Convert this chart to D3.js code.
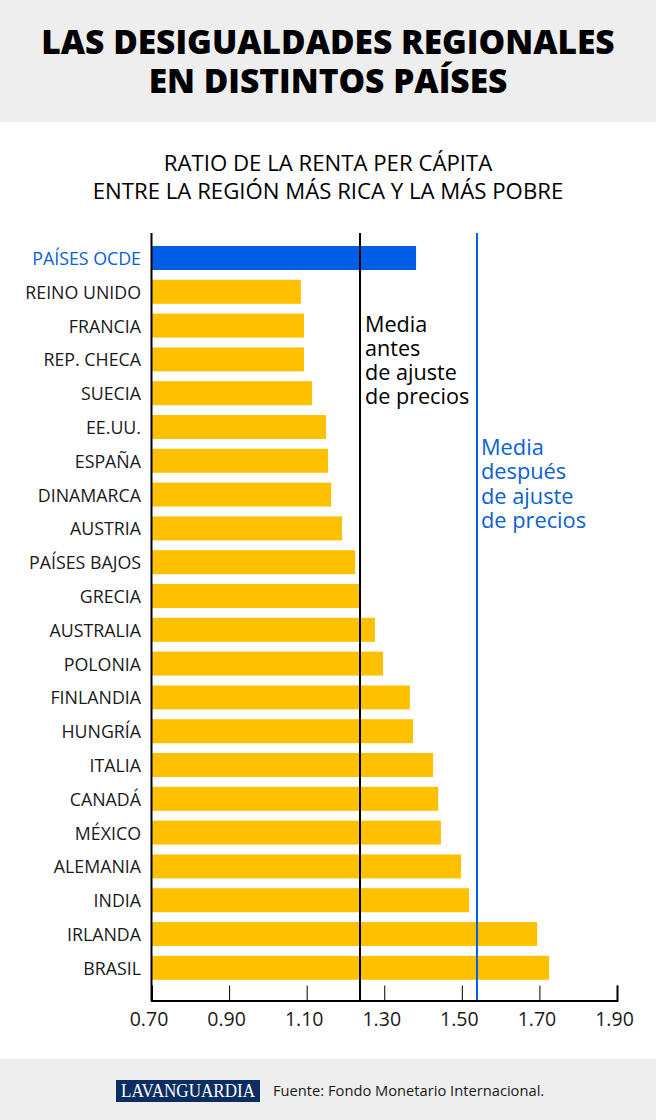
<!DOCTYPE html>
<html><head><meta charset="utf-8">
<script src="https://cdn.jsdelivr.net/npm/d3@7"></script>
<style>html,body{margin:0;padding:0;background:#fff}svg{display:block}text{font-family:"Open Sans",sans-serif}</style>
</head><body><div id="c"></div>
<script>
const categories=["PAÍSES OCDE","REINO UNIDO","FRANCIA","REP. CHECA","SUECIA","EE.UU.","ESPAÑA","DINAMARCA","AUSTRIA","PAÍSES BAJOS","GRECIA","AUSTRALIA","POLONIA","FINLANDIA","HUNGRÍA","ITALIA","CANADÁ","MÉXICO","ALEMANIA","INDIA","IRLANDA","BRASIL"];
const values=[1.382,1.085,1.093,1.093,1.114,1.150,1.155,1.163,1.191,1.225,1.2375,1.276,1.297,1.366,1.374,1.426,1.439,1.446,1.498,1.5185,1.694,1.725];
const tickValues=[0.7,0.9,1.1,1.3,1.5,1.7,1.9];
const meanBefore=1.2375, meanAfter=1.539;
const titleLines=["LAS DESIGUALDADES REGIONALES","EN DISTINTOS PAÍSES"];
const subtitleLines=["RATIO DE LA RENTA PER CÁPITA","ENTRE LA REGIÓN MÁS RICA Y LA MÁS POBRE"];
const noteBefore=["Media","antes","de ajuste","de precios"];
const noteAfter=["Media","después","de ajuste","de precios"];

const W=656,H=1120,NAVY="#0b2d62",BLUE="#005ee6",BLUET="#0a62d2",GOLD="#ffc000",GREY="#eeeeee",INK="#1a1a1a";
const svg=d3.select("#c").append("svg").attr("width",W).attr("height",H);
const x=d3.scaleLinear().domain([0.7,1.9]).range([151.5,617]);
const y=d3.scaleBand().domain(categories).range([246,979.8]).paddingInner(0.29);

svg.append("rect").attr("width",W).attr("height",122).attr("fill",GREY);
svg.append("rect").attr("y",1059).attr("width",W).attr("height",61).attr("fill",GREY);

svg.selectAll(".t").data(titleLines).join("text").attr("class","t")
 .attr("x",328).attr("y",(d,i)=>54+i*39).attr("text-anchor","middle")
 .attr("font-size",33.5).attr("font-weight",800).attr("fill","#000").text(d=>d);
svg.selectAll(".s").data(subtitleLines).join("text").attr("class","s")
 .attr("x",328).attr("y",(d,i)=>171+i*28).attr("text-anchor","middle")
 .attr("font-size",22.2).attr("fill","#000").text(d=>d);

svg.selectAll(".bar").data(categories).join("rect").attr("class","bar")
 .attr("x",x(0.7)).attr("y",d=>y(d)).attr("height",y.bandwidth())
 .attr("width",(d,i)=>x(values[i])-x(0.7))
 .attr("fill",(d,i)=>i===0?BLUE:GOLD);

svg.selectAll(".lab").data(categories).join("text").attr("class","lab")
 .attr("x",141).attr("y",d=>y(d)+y.bandwidth()/2+7).attr("text-anchor","end")
 .attr("font-size",17.8).attr("fill",(d,i)=>i===0?BLUET:INK).text(d=>d);

const axis=d3.axisBottom(x).tickValues(tickValues).tickFormat(d3.format(".2f")).tickSize(-15).tickPadding(0);
const g=svg.append("g").attr("transform","translate(0,1000.5)").call(axis);
g.select(".domain").attr("stroke","#000").attr("stroke-width",2);
g.selectAll(".tick line").attr("stroke","#000").attr("stroke-width",1);
g.selectAll(".tick text").attr("y",25.5).attr("dy",0).attr("dx",-3).attr("font-size",19.5)
 .attr("font-family",'"Open Sans",sans-serif').attr("fill",INK);

svg.append("line").attr("x1",x(0.7)).attr("x2",x(0.7)).attr("y1",233).attr("y2",1001).attr("stroke","#000").attr("stroke-width",2);
svg.append("line").attr("x1",x(meanBefore)).attr("x2",x(meanBefore)).attr("y1",233).attr("y2",1000).attr("stroke","#000").attr("stroke-width",2);
svg.append("line").attr("x1",x(meanAfter)).attr("x2",x(meanAfter)).attr("y1",233).attr("y2",1000).attr("stroke",BLUE).attr("stroke-width",2);

svg.selectAll(".nb").data(noteBefore).join("text").attr("class","nb")
 .attr("x",x(meanBefore)+5).attr("y",(d,i)=>332+i*24).attr("font-size",21.6).attr("fill","#000").text(d=>d);
svg.selectAll(".na").data(noteAfter).join("text").attr("class","na")
 .attr("x",x(meanAfter)+4).attr("y",(d,i)=>455+i*24.3).attr("font-size",21.8).attr("font-weight",500).attr("fill",BLUET).text(d=>d);

svg.append("rect").attr("x",116).attr("y",1080).attr("width",144).attr("height",22).attr("fill",NAVY);
svg.append("text").attr("x",188).attr("y",1097).attr("text-anchor","middle").attr("font-size",19)
 .attr("textLength",134).attr("lengthAdjust","spacingAndGlyphs")
 .style("font-family",'"Liberation Serif",serif').attr("fill","#fff").text("LAVANGUARDIA");
svg.append("text").attr("x",273).attr("y",1096).attr("font-size",14.7).attr("fill",INK).text("Fuente: Fondo Monetario Internacional.");
</script></body></html>
